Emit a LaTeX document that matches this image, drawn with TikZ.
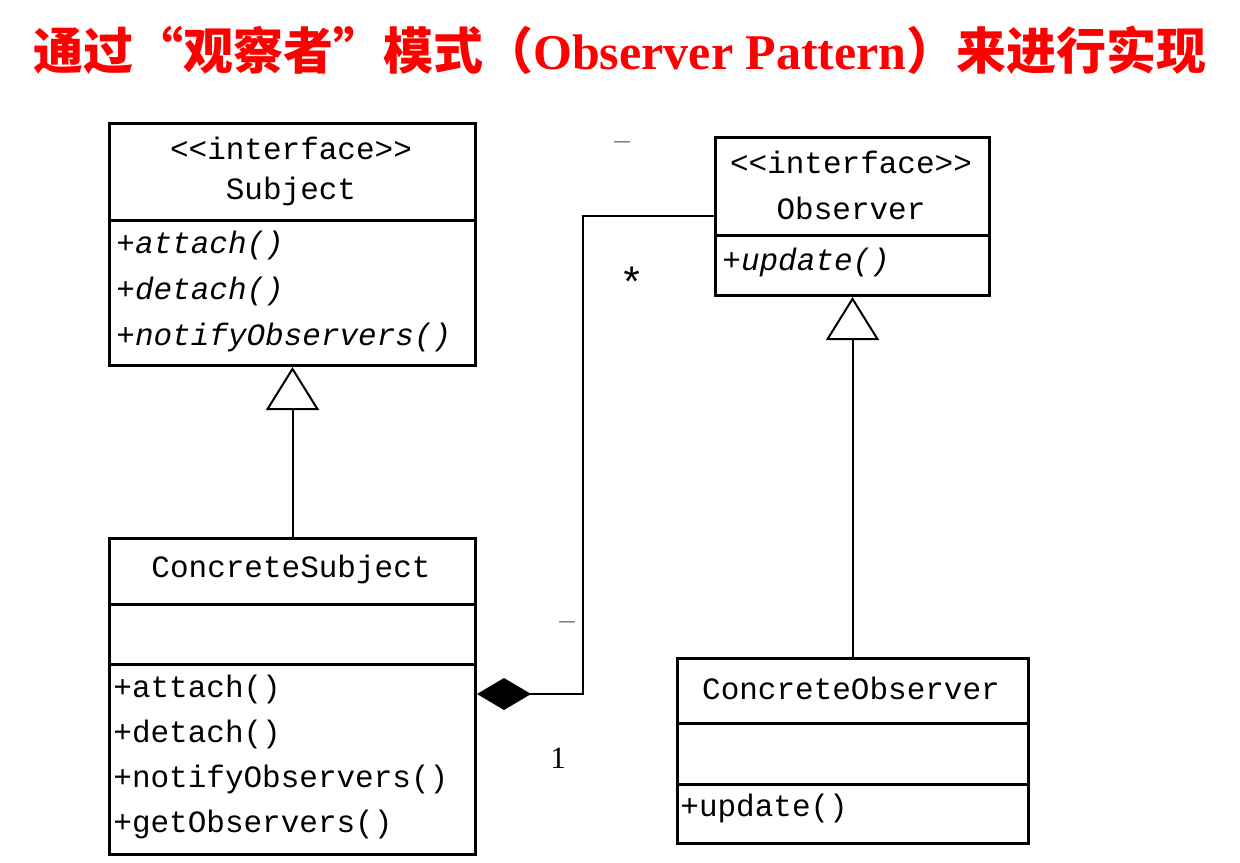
\documentclass[tikz,border=0pt]{standalone}
\usepackage{fontspec}
\setmainfont{Liberation Serif}
\setmonofont{Liberation Mono}
\newfontfamily\cjk{Noto Sans CJK SC}
\usetikzlibrary{arrows.meta,positioning}

\begin{document}
\begin{tikzpicture}[
  x=0.5pt,y=-0.5pt,
  font=\ttfamily\fontsize{15.5}{18}\selectfont,
  cls/.style={draw,line width=1.5pt,anchor=north west,inner sep=0pt},
  sep/.style={line width=1.5pt},
  lbl/.style={inner sep=0pt},
  mth/.style={inner sep=0pt,anchor=west},
  mult/.style={inner sep=0pt,font=\rmfamily\fontsize{15.5}{18}\selectfont},
  inherit/.style={-{Triangle[open,length=21.5pt,width=26.5pt]},line width=1pt},
  compo/.style={-{Diamond[length=27pt,width=16pt]},line width=1pt}
]
\useasboundingbox (0,0) rectangle (1240,862);

% title
\node[lbl,text=red,font=\fontsize{25}{30}\selectfont] (title) at (620,50)
  {{\cjk\bfseries 通过“观察者”模式（}{\rmfamily\bfseries Observer Pattern}{\cjk\bfseries ）来进行实现}};

% Subject
\node[cls,minimum width=183pt,minimum height=121pt] (subj) at (108,122) {};
\draw[sep] (subj.west |- 0,220) -- (subj.east |- 0,220);
\node[lbl] (subjst) at (291,148) {<<interface>>};
\node[lbl] (subjname) at (291,191) {Subject};
\node[mth] (subjm1) at (116,245) {\itshape +attach()};
\node[mth] (subjm2) at (116,291) {\itshape +detach()};
\node[mth] (subjm3) at (116,337) {\itshape +notifyObservers()};

% Observer
\node[cls,minimum width=137pt,minimum height=79pt] (obs) at (714,136) {};
\draw[sep] (obs.west |- 0,235) -- (obs.east |- 0,235);
\node[lbl] (obsst) at (851,162) {<<interface>>};
\node[lbl] (obsname) at (851,208) {Observer};
\node[mth] (obsm1) at (722,262) {\itshape +update()};

% ConcreteSubject
\node[cls,minimum width=183pt,minimum height=158pt] (csubj) at (108,537) {};
\draw[sep] (csubj.west |- 0,604) -- (csubj.east |- 0,604);
\draw[sep] (csubj.west |- 0,664) -- (csubj.east |- 0,664);
\node[lbl] (csubjname) at (291,569) {ConcreteSubject};
\node[mth] (csubjm1) at (113,689) {+attach()};
\node[mth] (csubjm2) at (113,734) {+detach()};
\node[mth] (csubjm3) at (113,779) {+notifyObservers()};
\node[mth] (csubjm4) at (113,824) {+getObservers()};

% ConcreteObserver
\node[cls,minimum width=175.5pt,minimum height=92.5pt] (cobs) at (676,657) {};
\draw[sep] (cobs.west |- 0,723) -- (cobs.east |- 0,723);
\draw[sep] (cobs.west |- 0,784) -- (cobs.east |- 0,784);
\node[lbl] (cobsname) at (851,688) {ConcreteObserver};
\node[mth] (cobsm1) at (680,808) {+update()};

% relations
\draw[inherit] (csubj.north) -- (subj.south);
\draw[inherit] (cobs.north -| obs.south) -- (obs.south);
\draw[compo] (obs.west |- 0,216) -| (583,694) -- (csubj.east |- 0,694);

% multiplicities
\node[mult,text=gray] (obsdash) at (622,146) {–};
\node[mult,font=\ttfamily\fontsize{21}{24}\selectfont] (obsmany) at (632,282) {*};
\node[mult,text=gray] (subjdash) at (567,625) {–};
\node[mult] (subjone) at (558,758) {1};
\end{tikzpicture}
\end{document}
